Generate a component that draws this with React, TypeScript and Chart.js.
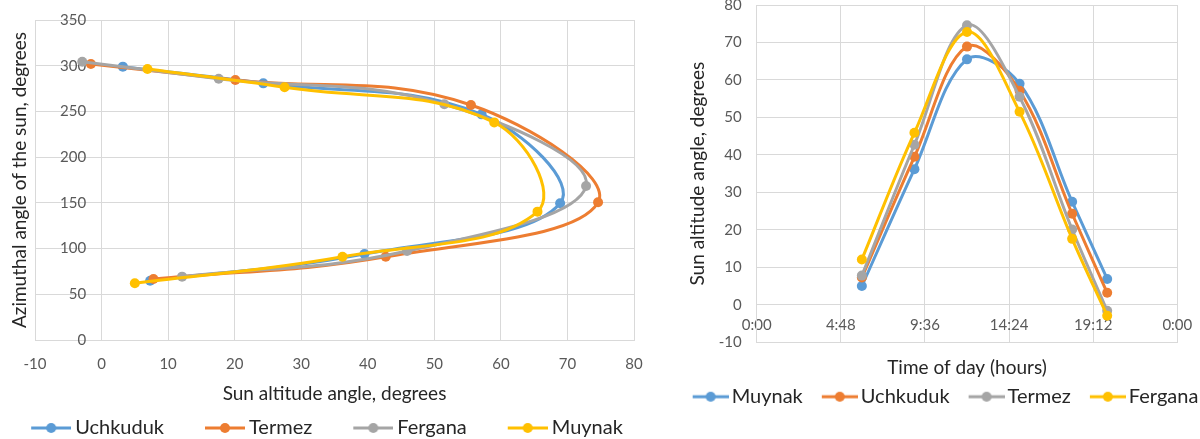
import React, { useEffect, useRef } from 'react';
import { Chart, registerables } from 'chart.js';

Chart.register(...registerables);

// Observation hours of the day
const observationHours = [6, 9, 12, 15, 18, 20];

// Sun altitude angle (degrees) per city at those hours
const uchkudukAltitude = [7.3, 39.5, 68.9, 57.1, 24.3, 3.2];
const termezAltitude = [7.8, 42.7, 74.6, 55.5, 20.1, -1.6];
const ferganaAltitude = [12.1, 45.9, 72.8, 51.5, 17.6, -2.9];
const muynakAltitude = [5.0, 36.2, 65.5, 59.0, 27.5, 6.9];

// Sun azimuthal angle (degrees) per city at those hours
const uchkudukAzimuth = [64.9, 94, 149.5, 246.8, 280.7, 299];
const termezAzimuth = [66.7, 91, 150.6, 257, 284.4, 301.9];
const ferganaAzimuth = [69.3, 97.3, 168.4, 257.8, 285.8, 304.4];
const muynakAzimuth = [62, 91, 140.4, 238, 276.4, 296.4];

const leftSeriesNames = ['Uchkuduk', 'Termez', 'Fergana', 'Muynak'];
const rightSeriesNames = ['Muynak', 'Uchkuduk', 'Termez', 'Fergana'];
const seriesColors = ['#5B9BD5', '#ED7D31', '#A5A5A5', '#FFC000'];
const timeTickLabels = ['0:00', '4:48', '9:36', '14:24', '19:12', '0:00'];

const altitudeByCity: Record<string, number[]> = {
  Uchkuduk: uchkudukAltitude,
  Termez: termezAltitude,
  Fergana: ferganaAltitude,
  Muynak: muynakAltitude,
};
const azimuthByCity: Record<string, number[]> = {
  Uchkuduk: uchkudukAzimuth,
  Termez: termezAzimuth,
  Fergana: ferganaAzimuth,
  Muynak: muynakAzimuth,
};

const FONT = 'Lato';
const TICK_COLOR = '#595959';
const TEXT_COLOR = '#262626';
const GRID_COLOR = '#D9D9D9';

function makeMarker(color: string, width: number, lineLen: number) {
  const c = document.createElement('canvas');
  c.width = width;
  c.height = 14;
  const ctx = c.getContext('2d')!;
  ctx.strokeStyle = color;
  ctx.lineWidth = 3;
  ctx.beginPath();
  ctx.moveTo(width - lineLen, 7);
  ctx.lineTo(width, 7);
  ctx.stroke();
  ctx.fillStyle = color;
  ctx.beginPath();
  ctx.arc(width - lineLen / 2, 7, 5, 0, Math.PI * 2);
  ctx.fill();
  return c;
}

function legendOptions(markerW: number, boxW: number, lineLen: number) {
  const markers = seriesColors.map((c) => makeMarker(c, markerW, lineLen));
  return {
    display: true,
    position: 'bottom',
    align: 'center',
    labels: {
      usePointStyle: true,
      pointStyleWidth: boxW,
      padding: 0,
      color: TEXT_COLOR,
      font: { family: FONT, size: 20 },
      generateLabels: (chart: any) =>
        chart.data.datasets.map((ds: any, i: number) => ({
          text: ds.label,
          pointStyle: markers[i],
          fillStyle: 'rgba(0,0,0,0)',
          strokeStyle: 'rgba(0,0,0,0)',
          lineWidth: 0,
          hidden: false,
          datasetIndex: i,
          fontColor: TEXT_COLOR,
        })),
    },
  };
}

function dataset(label: string, color: string, data: any[], order: number, tension: number) {
  return {
    label,
    data,
    showLine: true,
    borderColor: color,
    backgroundColor: color,
    borderWidth: 3,
    pointRadius: 5,
    pointHoverRadius: 5,
    pointBorderWidth: 0,
    pointBackgroundColor: color,
    tension,
    order,
  };
}

function dummyRightAxis(width: number) {
  return {
    type: 'linear',
    position: 'right',
    display: true,
    grid: { display: false, drawTicks: false },
    border: { display: false },
    ticks: { display: false },
    afterFit: (s: any) => {
      s.width = width;
      s.paddingTop = 0;
      s.paddingBottom = 0;
    },
  };
}

function leftConfig(): any {
  const datasets = leftSeriesNames.map((name, i) =>
    dataset(
      name,
      seriesColors[i],
      altitudeByCity[name].map((a, k) => ({ x: a, y: azimuthByCity[name][k] })),
      leftSeriesNames.length - 1 - i,
      0.4
    )
  );
  return {
    type: 'scatter',
    data: { datasets },
    options: {
      animation: false,
      responsive: false,
      maintainAspectRatio: false,
      events: [],
      layout: { padding: { left: -39, right: 0, top: 20, bottom: -9 } },
      plugins: {
        legend: legendOptions(87, 75, 40),
        tooltip: { enabled: false },
        title: { display: false },
      },
      scales: {
        x: {
          type: 'linear',
          position: 'bottom',
          min: -10,
          max: 80,
          grid: { color: GRID_COLOR, drawTicks: false, lineWidth: 1 },
          border: { color: GRID_COLOR },
          ticks: {
            stepSize: 10,
            padding: 15,
            color: TICK_COLOR,
            font: { family: FONT, size: 15 },
            autoSkip: false,
            maxRotation: 0,
          },
          title: {
            display: true,
            text: 'Sun altitude angle, degrees',
            color: TEXT_COLOR,
            font: { family: FONT, size: 19 },
            padding: { top: 0, bottom: 12.6 },
          },
          afterFit: (s: any) => {
            s.height = 78;
            s.paddingLeft = 0;
            s.paddingRight = 0;
          },
        },
        y: {
          type: 'linear',
          position: 'left',
          min: 0,
          max: 350,
          grid: { color: GRID_COLOR, drawTicks: false, lineWidth: 1 },
          border: { color: GRID_COLOR },
          ticks: {
            stepSize: 50,
            mirror: true,
            crossAlign: 'far',
            padding: 25,
            color: TICK_COLOR,
            font: { family: FONT, size: 15 },
          },
          title: {
            display: true,
            text: 'Azimuthal angle of the sun, degrees',
            color: TEXT_COLOR,
            font: { family: FONT, size: 19 },
            padding: { top: 47.6, bottom: 0 },
          },
          afterFit: (s: any) => {
            s.width = 74;
            s.paddingTop = 0;
            s.paddingBottom = 0;
          },
        },
        yR: dummyRightAxis(18),
      },
    },
  };
}

function rightConfig(): any {
  const datasets = rightSeriesNames.map((name, i) =>
    dataset(
      name,
      seriesColors[i],
      observationHours.map((h, k) => ({ x: h, y: altitudeByCity[name][k] })),
      rightSeriesNames.length - 1 - i,
      0.35
    )
  );
  return {
    type: 'scatter',
    data: { datasets },
    options: {
      animation: false,
      responsive: false,
      maintainAspectRatio: false,
      events: [],
      layout: { padding: { left: -28, right: 0, top: 1.1, bottom: 22.3 } },
      plugins: {
        legend: legendOptions(62, 48, 36),
        tooltip: { enabled: false },
        title: { display: false },
      },
      scales: {
        x: {
          type: 'linear',
          position: 'bottom',
          min: 0,
          max: 24,
          grid: { color: GRID_COLOR, drawTicks: false, lineWidth: 1 },
          border: { color: GRID_COLOR },
          ticks: {
            stepSize: 4.8,
            mirror: true,
            padding: 8,
            color: TICK_COLOR,
            font: { family: FONT, size: 15 },
            autoSkip: false,
            maxRotation: 0,
            callback: (_v: any, i: number) => timeTickLabels[i],
          },
          title: {
            display: true,
            text: 'Time of day (hours)',
            color: TEXT_COLOR,
            font: { family: FONT, size: 19 },
            padding: { top: 0, bottom: 7.3 },
          },
          afterFit: (s: any) => {
            s.height = 44.4;
            s.paddingLeft = 0;
            s.paddingRight = 0;
          },
        },
        y: {
          type: 'linear',
          position: 'left',
          min: -10,
          max: 80,
          grid: { color: GRID_COLOR, drawTicks: false, lineWidth: 1 },
          border: { color: GRID_COLOR },
          ticks: {
            stepSize: 10,
            padding: 15,
            color: TICK_COLOR,
            font: { family: FONT, size: 15 },
          },
          title: {
            display: true,
            text: 'Sun altitude angle, degrees',
            color: TEXT_COLOR,
            font: { family: FONT, size: 19 },
            padding: { top: 34.6, bottom: 0 },
          },
          afterFit: (s: any) => {
            s.width = 104.7;
            s.paddingTop = 0;
            s.paddingBottom = 0;
          },
        },
        yR: dummyRightAxis(42.7),
      },
    },
  };
}

export default function App() {
  const leftRef = useRef<HTMLCanvasElement>(null);
  const rightRef = useRef<HTMLCanvasElement>(null);

  useEffect(() => {
    const left = new Chart(leftRef.current as HTMLCanvasElement, leftConfig());
    const right = new Chart(rightRef.current as HTMLCanvasElement, rightConfig());
    return () => {
      left.destroy();
      right.destroy();
    };
  }, []);

  return (
    <div
      style={{
        position: 'fixed',
        left: 0,
        top: 0,
        width: 1200,
        height: 439,
        overflow: 'hidden',
        background: '#ffffff',
      }}
    >
      <canvas
        ref={leftRef}
        width={652}
        height={439}
        style={{ position: 'absolute', left: 0, top: 0, width: 652, height: 439 }}
      />
      <canvas
        ref={rightRef}
        width={540}
        height={439}
        style={{ position: 'absolute', left: 680, top: 0, width: 540, height: 439 }}
      />
    </div>
  );
}
